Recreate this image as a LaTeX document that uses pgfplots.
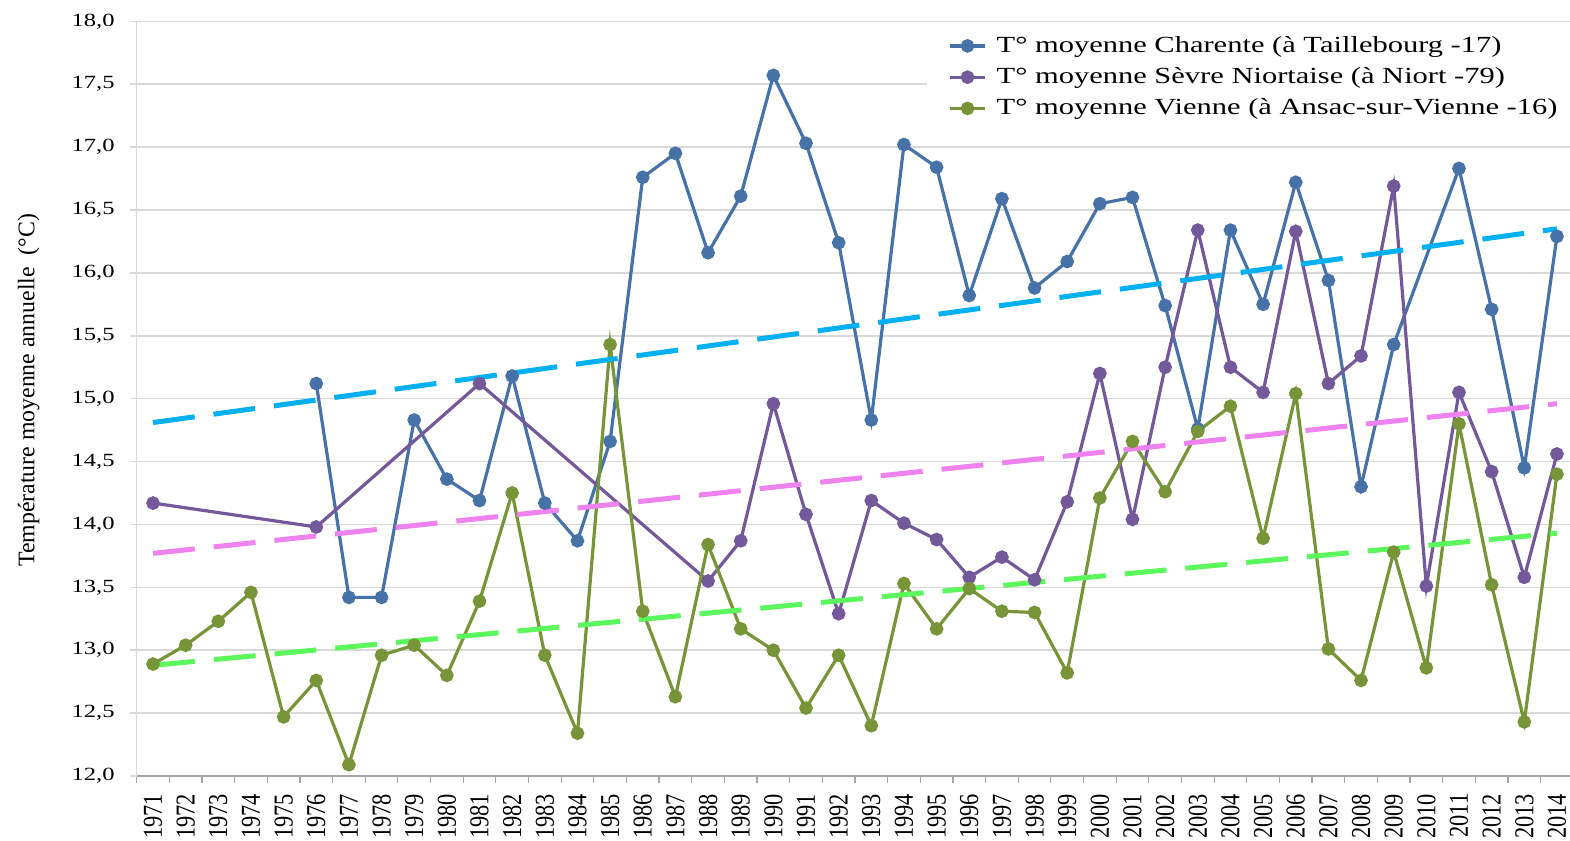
\documentclass[border=0pt]{standalone}
\usepackage{fontspec}
\setmainfont{Liberation Serif}
\newfontfamily\stretchfont[FakeStretch=1.32]{Liberation Serif}
\usepackage{pgfplots}
\pgfplotsset{compat=1.18}
\definecolor{cBlue}{HTML}{4672A8}
\definecolor{cPurple}{HTML}{73589A}
\definecolor{cGreen}{HTML}{779538}
\definecolor{tBlue}{HTML}{00B0F0}
\definecolor{tPink}{HTML}{EE82EE}
\definecolor{tGreen}{HTML}{5CF75C}
\definecolor{gridgray}{HTML}{D9D9D9}
\definecolor{axisgray}{HTML}{A6A6A6}
\begin{document}
\begin{tikzpicture}
\begin{axis}[
  scale only axis, width=716.65pt, height=377.35pt,
  xmin=-0.5, xmax=43.4, ymin=12, ymax=18,
  axis lines=left, axis line style={-},
  x axis line style={draw=axisgray, line width=1pt},
  y axis line style={draw=gridgray, line width=0.75pt},
  ymajorgrids, major grid style={draw=gridgray, line width=0.75pt},
  tick align=outside, major tick length=3.5pt, minor tick length=3.5pt,
  ytick={12,12.5,13,13.5,14,14.5,15,15.5,16,16.5,17,17.5,18},
  ytick style={draw=gridgray, line width=0.75pt},
  yticklabel style={font=\stretchfont\fontsize{9.3}{11}\selectfont, xshift=-4pt,
    /pgf/number format/.cd, fixed, fixed zerofill, precision=1, use comma, assume math mode=true},
  xtick={0,1,2,3,4,5,6,7,8,9,10,11,12,13,14,15,16,17,18,19,20,21,22,23,24,25,26,27,28,29,30,31,32,33,34,35,36,37,38,39,40,41,42,43},
  xticklabels={1971,1972,1973,1974,1975,1976,1977,1978,1979,1980,1981,1982,1983,1984,1985,1986,1987,1988,1989,1990,1991,1992,1993,1994,1995,1996,1997,1998,1999,2000,2001,2002,2003,2004,2005,2006,2007,2008,2009,2010,2011,2012,2013,2014},
  xtick style={draw=none},
  minor xtick={-0.5,0.5,1.5,2.5,3.5,4.5,5.5,6.5,7.5,8.5,9.5,10.5,11.5,12.5,13.5,14.5,15.5,16.5,17.5,18.5,19.5,20.5,21.5,22.5,23.5,24.5,25.5,26.5,27.5,28.5,29.5,30.5,31.5,32.5,33.5,34.5,35.5,36.5,37.5,38.5,39.5,40.5,41.5,42.5},
  minor x tick style={draw=axisgray, line width=0.6pt},
  xticklabel style={rotate=90, yscale=1.22, anchor=east, inner ysep=0.3pt, inner xsep=5.2pt, font=\fontsize{11.2}{13}\selectfont},
  ylabel={Température moyenne annuelle\ \ (°C)},
  ylabel style={at={(axis description cs:-0.0753,0.511)}, anchor=center, font=\fontsize{11.9}{14}\selectfont},
  legend style={at={(axis description cs:0.5514,0.9938)}, anchor=north west, draw=none, fill=white,
    font=\stretchfont\fontsize{11.55}{13.7}\selectfont, row sep=2.1pt, inner xsep=10.5pt, inner ysep=3pt,
    /tikz/every odd column/.append style={column sep=3pt}},
  legend cell align=left,
  legend image code/.code={\draw[mark repeat=2,mark phase=2,#1] plot coordinates {(0pt,0pt)(8.75pt,0pt)(17.5pt,0pt)};},
  every axis plot/.append style={line width=1.6pt},
]
\coordinate (ll) at (rel axis cs:0,0);
\addplot[cBlue, mark=*, mark size=2.6pt] coordinates {
(5,15.12)(6,13.42)(7,13.42)(8,14.83)(9,14.36)(10,14.19)(11,15.18)(12,14.17)(13,13.87)(14,14.66)
(15,16.76)(16,16.95)(17,16.16)(18,16.61)(19,17.57)(20,17.03)(21,16.24)(22,14.83)(23,17.02)(24,16.84)
(25,15.82)(26,16.59)(27,15.88)(28,16.09)(29,16.55)(30,16.60)(31,15.74)(32,14.76)(33,16.34)(34,15.75)
(35,16.72)(36,15.94)(37,14.30)(38,15.43)(40,16.83)(41,15.71)(42,14.45)(43,16.29)};
\addlegendentry{T° moyenne Charente (à Taillebourg -17)}
\addplot[cPurple, mark=*, mark size=2.6pt] coordinates {
(0,14.17)(5,13.98)(10,15.12)(17,13.55)(18,13.87)(19,14.96)(20,14.08)(21,13.29)(22,14.19)(23,14.01)
(24,13.88)(25,13.58)(26,13.74)(27,13.56)(28,14.18)(29,15.20)(30,14.04)(31,15.25)(32,16.34)(33,15.25)
(34,15.05)(35,16.33)(36,15.12)(37,15.34)(38,16.69)(39,13.51)(40,15.05)(41,14.42)(42,13.58)(43,14.56)};
\addlegendentry{T° moyenne Sèvre Niortaise (à Niort -79)}
\addplot[cGreen, mark=*, mark size=2.6pt] coordinates {
(0,12.89)(1,13.04)(2,13.23)(3,13.46)(4,12.47)(5,12.76)(6,12.09)(7,12.96)(8,13.04)(9,12.80)
(10,13.39)(11,14.25)(12,12.96)(13,12.34)(14,15.43)(15,13.31)(16,12.63)(17,13.84)(18,13.17)(19,13.00)
(20,12.54)(21,12.96)(22,12.40)(23,13.53)(24,13.17)(25,13.49)(26,13.31)(27,13.30)(28,12.82)(29,14.21)
(30,14.66)(31,14.26)(32,14.74)(33,14.94)(34,13.89)(35,15.04)(36,13.01)(37,12.76)(38,13.78)(39,12.86)
(40,14.80)(41,13.52)(42,12.43)(43,14.40)};
\addlegendentry{T° moyenne Vienne (à Ansac-sur-Vienne -16)}
\addplot[forget plot, tBlue, line width=2.5pt, dash pattern=on 21pt off 9.5pt] coordinates {(0,14.81)(43,16.35)};
\addplot[forget plot, tPink, line width=2.5pt, dash pattern=on 21pt off 9.5pt] coordinates {(0,13.77)(43,14.96)};
\addplot[forget plot, tGreen, line width=2.5pt, dash pattern=on 21pt off 9.5pt] coordinates {(0,12.88)(43,13.93)};
\end{axis}
\pgfresetboundingbox
\path[use as bounding box] ([shift={(-68.35pt,-32.5pt)}]ll) rectangle ([shift={(716.65pt,388pt)}]ll);
\end{tikzpicture}
\end{document}
